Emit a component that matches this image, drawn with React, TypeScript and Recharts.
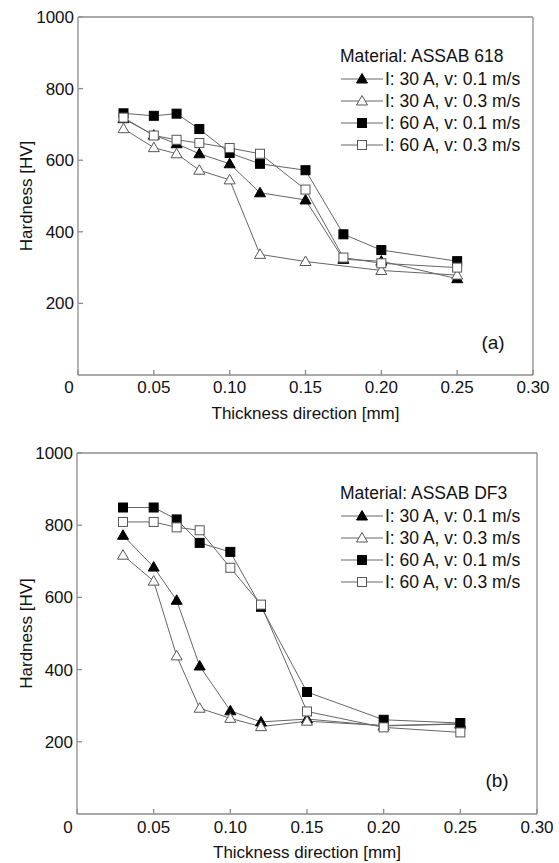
import React from 'react';
import { LineChart, Line, XAxis, YAxis, Legend } from 'recharts';

const seriesNames = ['I: 30 A, v: 0.1 m/s', 'I: 30 A, v: 0.3 m/s', 'I: 60 A, v: 0.1 m/s', 'I: 60 A, v: 0.3 m/s'];
const markerShapes = ['triangle', 'triangle', 'square', 'square'];
const markerFilled = [true, false, true, false];

const xTicks = [0, 0.05, 0.1, 0.15, 0.2, 0.25, 0.3];
const yTicks = [200, 400, 600, 800, 1000];

// (a) ASSAB 618
const depthA = [0.03, 0.05, 0.065, 0.08, 0.1, 0.12, 0.15, 0.175, 0.2, 0.25];
const depthA2 = [0.03, 0.05, 0.065, 0.08, 0.1, 0.12, 0.15, 0.2, 0.25];
const a30v01 = [716, 670, 646, 618, 590, 509, 489, 323, 318, 269];
const a30v03 = [688, 635, 618, 572, 545, 337, 317, 292, 279];
const a60v01 = [731, 724, 730, 687, 620, 590, 572, 393, 349, 318];
const a60v03 = [719, 669, 657, 648, 634, 618, 518, 328, 312, 300];

// (b) ASSAB DF3
const depthB = [0.03, 0.05, 0.065, 0.08, 0.1, 0.12, 0.15, 0.2, 0.25];
const b30v01 = [772, 684, 592, 410, 286, 255, 263, 244, 249];
const b30v03 = [717, 645, 438, 293, 265, 242, 257, 245, 250];
const b60v01 = [849, 849, 816, 751, 726, 574, 338, 261, 252];
const b60v03 = [809, 809, 794, 786, 682, 580, 284, 240, 226];

const font = "'Liberation Sans', Arial, Helvetica, sans-serif";
const textColor = '#111';
const axisColor = '#8c8c8c';
const lineColor = '#666';

const zip = (xs: number[], ys: number[]) => xs.map((x, i) => ({ x, y: ys[i] }));

const Marker = ({ cx, cy, shape, filled }: any) => {
  if (cx == null || cy == null) return null;
  const fill = filled ? '#000' : '#fff';
  const stroke = filled ? '#000' : '#555';
  if (shape === 'square') {
    return <rect x={cx - 4.5} y={cy - 4.5} width={9} height={9} fill={fill} stroke={stroke} strokeWidth={1} />;
  }
  return (
    <polygon
      points={`${cx},${cy - 5.5} ${cx + 5.5},${cy + 4} ${cx - 5.5},${cy + 4}`}
      fill={fill}
      stroke={stroke}
      strokeWidth={1}
    />
  );
};

const XTick = ({ x, y, payload }: any) => (
  <text
    x={payload.value === 0 ? x - 9 : x}
    y={y}
    dy="0.71em"
    textAnchor="middle"
    fill={textColor}
    fontSize={17}
    fontFamily={font}
  >
    {payload.value === 0 ? '0' : payload.value.toFixed(2)}
  </text>
);

const YTick = ({ x, y, payload }: any) => (
  <text x={x} y={y} dy="0.355em" textAnchor="end" fill={textColor} fontSize={17} fontFamily={font}>
    {payload.value}
  </text>
);

const makeLegend = (title: string) => ({ payload }: any) => (
  <div style={{ fontFamily: font, fontSize: 17.5, color: textColor, whiteSpace: 'nowrap' }}>
    <div style={{ height: 24, lineHeight: '24px' }}>{title}</div>
    {(payload || []).map((entry: any, i: number) => {
      const idx = seriesNames.indexOf(entry.value);
      return (
        <div key={i} style={{ display: 'flex', alignItems: 'center', height: 22 }}>
          <svg width={44} height={22} style={{ display: 'block' }}>
            <line x1={1} y1={11} x2={43} y2={11} stroke={lineColor} strokeWidth={1} />
            <Marker cx={22} cy={11} shape={markerShapes[idx]} filled={markerFilled[idx]} />
          </svg>
          <span style={{ marginLeft: 1, lineHeight: '22px' }}>{entry.value}</span>
        </div>
      );
    })}
  </div>
);

interface PanelProps {
  series: { x: number; y: number }[][];
  title: string;
  tag: string;
  height: number;
  margin: { top: number; right: number; bottom: number; left: number };
  yAxisWidth: number;
  xAxisHeight: number;
  labelGap: number;
  legendTop: number;
  tagPos: { left: number; top: number };
}

const Panel = ({ series, title, tag, height, margin, yAxisWidth, xAxisHeight, labelGap, legendTop, tagPos }: PanelProps) => (
  <div style={{ position: 'relative', width: 559, height }}>
    <LineChart width={559} height={height} margin={margin}>
      <XAxis
        xAxisId="b"
        type="number"
        dataKey="x"
        domain={[0, 0.3]}
        ticks={xTicks}
        allowDataOverflow
        height={xAxisHeight}
        stroke={axisColor}
        strokeWidth={1.3}
        tickSize={-5}
        tickMargin={labelGap}
        tick={<XTick />}
        label={{
          content: ({ viewBox }: any) => (
            <text
              x={viewBox.x + viewBox.width / 2}
              y={viewBox.y + 38}
              textAnchor="middle"
              dominantBaseline="central"
              fill={textColor}
              fontSize={17}
              fontFamily={font}
            >
              Thickness direction [mm]
            </text>
          ),
        }}
      />
      <XAxis
        xAxisId="t"
        orientation="top"
        type="number"
        dataKey="x"
        domain={[0, 0.3]}
        ticks={xTicks}
        height={1}
        stroke={axisColor}
        strokeWidth={1.3}
        tickSize={-5}
        tick={false}
      />
      <YAxis
        yAxisId="l"
        type="number"
        domain={[0, 1000]}
        ticks={yTicks}
        width={yAxisWidth}
        stroke={axisColor}
        strokeWidth={1.3}
        tickSize={-5}
        tickMargin={9}
        tick={<YTick />}
        label={{
          content: ({ viewBox }: any) => {
            const cx = viewBox.x + 26;
            const cy = viewBox.y + viewBox.height / 2;
            return (
              <text
                x={cx}
                y={cy}
                transform={`rotate(-90, ${cx}, ${cy})`}
                textAnchor="middle"
                dominantBaseline="central"
                fill={textColor}
                fontSize={17}
                fontFamily={font}
              >
                Hardness [HV]
              </text>
            );
          },
        }}
      />
      <YAxis
        yAxisId="r"
        orientation="right"
        type="number"
        domain={[0, 1000]}
        ticks={yTicks}
        width={1}
        stroke={axisColor}
        strokeWidth={1.3}
        tickSize={-5}
        tick={false}
      />
      <Legend
        layout="horizontal"
        verticalAlign="middle"
        content={makeLegend(title)}
        wrapperStyle={{ left: 340, top: legendTop, width: 'auto', bottom: 'auto' }}
      />
      {series.map((data, i) => (
        <Line
          key={seriesNames[i]}
          xAxisId="b"
          yAxisId="l"
          data={data}
          dataKey="y"
          name={seriesNames[i]}
          stroke={lineColor}
          strokeWidth={1}
          isAnimationActive={false}
          dot={(p: any) => (
            <Marker key={`m-${i}-${p.index}`} cx={p.cx} cy={p.cy} shape={markerShapes[i]} filled={markerFilled[i]} />
          )}
          activeDot={false}
        />
      ))}
    </LineChart>
    <div
      style={{
        position: 'absolute',
        left: tagPos.left - 20,
        top: tagPos.top - 12,
        width: 40,
        height: 24,
        lineHeight: '24px',
        textAlign: 'center',
        fontFamily: font,
        fontSize: 19,
        color: textColor,
      }}
    >
      {tag}
    </div>
  </div>
);

export default function App() {
  return (
    <div style={{ position: 'absolute', left: 0, top: 0, width: 559, height: 863, background: '#fff' }}>
      <Panel
        series={[zip(depthA, a30v01), zip(depthA2, a30v03), zip(depthA, a60v01), zip(depthA, a60v03)]}
        title="Material: ASSAB 618"
        tag="(a)"
        height={430}
        margin={{ top: 16, right: 25, bottom: 0, left: 0 }}
        yAxisWidth={78}
        xAxisHeight={55}
        labelGap={11}
        legendTop={44}
        tagPos={{ left: 493, top: 343 }}
      />
      <Panel
        series={[zip(depthB, b30v01), zip(depthB, b30v03), zip(depthB, b60v01), zip(depthB, b60v03)]}
        title="Material: ASSAB DF3"
        tag="(b)"
        height={433}
        margin={{ top: 22, right: 21, bottom: 0, left: 0 }}
        yAxisWidth={77}
        xAxisHeight={49}
        labelGap={12}
        legendTop={51}
        tagPos={{ left: 497, top: 351 }}
      />
    </div>
  );
}
